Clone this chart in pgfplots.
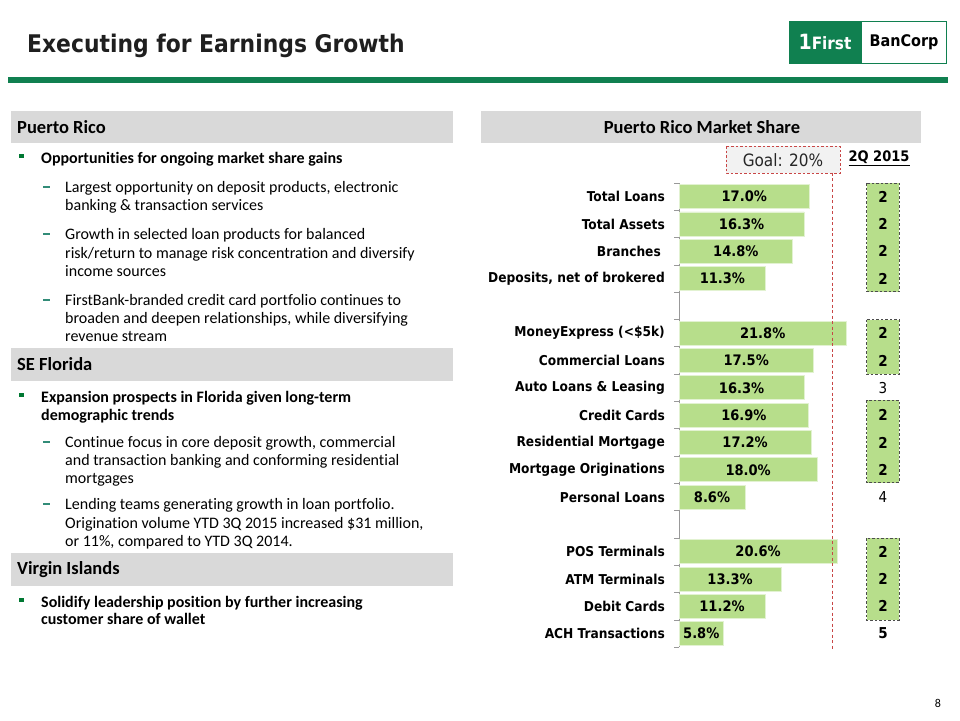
\documentclass[border=0pt]{standalone}
\usepackage{fontspec}
\setmainfont{Carlito}[Ligatures=NoCommon]
\newfontfamily\tah{DejaVu Sans Condensed}
\usepackage{pgfplots}
\pgfplotsset{compat=1.18}
\definecolor{fbgreen}{RGB}{16,128,80}
\definecolor{bulgreen}{RGB}{0,120,50}
\definecolor{bargreen}{RGB}{183,222,139}
\definecolor{hdrgray}{RGB}{217,217,217}
\definecolor{goalred}{RGB}{200,70,70}
\definecolor{dashteal}{RGB}{50,140,120}
\newcommand{\tl}[3]{\node[anchor=base west,inner sep=0pt,font=\fontsize{16}{18}\selectfont] at (#1,#2+5) {#3};}
\newcommand{\tb}[3]{\node[anchor=base west,inner sep=0pt,font=\bfseries\fontsize{16}{18}\selectfont] at (#1,#2+5) {#3};}
\newcommand{\bul}[1]{\fill[bulgreen] (19,#1-4.5) rectangle ++(4.5,4.5);}
\newcommand{\sdash}[1]{\draw[dashteal, line width=1.1pt] (43,#1) -- (50,#1);}
\newcommand{\hdr}[3]{\fill[hdrgray] (11,#1) rectangle (453,#2);
  \node[anchor=west,inner sep=0pt,font=\bfseries\fontsize{18.5}{20}\selectfont] at (17,{(#1+#2)/2}) {#3};}
\begin{document}
\begin{tikzpicture}
\begin{scope}[x=1pt,y=-1pt]
\fill[white] (0,0) rectangle (960,720);
% title
\node[anchor=base west,inner sep=0pt,text=black!88,font=\tah\bfseries\fontsize{24.3}{28}\selectfont] at (27,52) {Executing for Earnings Growth};
% logo
\fill[white] (789,21) rectangle (946,63);
\fill[fbgreen] (789,21) rectangle (862,63);
\draw[fbgreen, line width=1pt] (789,21) rectangle (946,63);
\node[white,inner sep=0pt,font=\tah\bfseries\fontsize{17}{20}\selectfont] at (825,42) {{\fontsize{21}{20}\selectfont 1}First};
\node[black,inner sep=0pt,font=\tah\bfseries\fontsize{16}{20}\selectfont] at (904,42) {BanCorp};
% rule
\fill[fbgreen] (8,77) rectangle (948,83);
% left panel
\hdr{111}{143}{Puerto Rico}
\bul{158}\tb{41}{158}{Opportunities for ongoing market share gains}
\sdash{187}\tl{65}{187}{Largest opportunity on deposit products, electronic}
\tl{65}{205}{banking \& transaction services}
\sdash{234}\tl{65}{234}{Growth in selected loan products for balanced}
\tl{65}{253}{risk/return to manage risk concentration and diversify}
\tl{65}{271}{income sources}
\sdash{300}\tl{65}{300}{FirstBank-branded credit card portfolio continues to}
\tl{65}{318}{broaden and deepen relationships, while diversifying}
\tl{65}{336}{revenue stream}
\hdr{348}{381}{SE Florida}
\bul{397}\tb{41}{397}{Expansion prospects in Florida given long-term}
\tb{41}{415}{demographic trends}
\sdash{442}\tl{65}{442}{Continue focus in core deposit growth, commercial}
\tl{65}{460}{and transaction banking and conforming residential}
\tl{65}{478}{mortgages}
\sdash{504}\tl{65}{504}{Lending teams generating growth in loan portfolio.}
\tl{65}{523}{Origination volume YTD 3Q 2015 increased \$31 million,}
\tl{65}{541}{or 11\%, compared to YTD 3Q 2014.}
\hdr{553}{586}{Virgin Islands}
\bul{602}\tb{41}{602}{Solidify leadership position by further increasing}
\tb{41}{619}{customer share of wallet}
% right header
\fill[hdrgray] (481,111) rectangle (921,143);
\node[inner sep=0pt,font=\bfseries\fontsize{18.5}{20}\selectfont] at (702,127) {Puerto Rico Market Share};
% goal box
\draw[goalred, fill=black!5, line width=1pt, dash pattern=on 2.5pt off 2pt] (726,146) rectangle (840,173);
\node[inner sep=0pt,font=\tah\fontsize{17}{20}\selectfont, text=black!85] at (783,160) {Goal: 20\%};
\node[inner sep=0pt,font=\tah\bfseries\fontsize{14.5}{17}\selectfont] at (879,158) {\underline{2Q 2015}};
% page number
\node[inner sep=0pt,font=\fontsize{12}{14}\selectfont] at (938,703) {8};
\end{scope}
\begin{axis}[
  at={(679pt,-183pt)}, anchor=north west,
  scale only axis, width=215.04pt, height=464.27pt,
  xmin=0, xmax=28, ymin=-0.5, ymax=16.5, y dir=reverse,
  axis x line=none, axis y line*=left,
  y axis line style={black!40, line width=0.8pt},
  clip=false,
  /pgf/number format/assume math mode=true,
  ytick={0,...,16},
  yticklabels={Total Loans, Total Assets, Branches\hspace*{4pt}, {Deposits, net of brokered}, {}, MoneyExpress (<\$5k), Commercial Loans, Auto Loans \& Leasing, Credit Cards, Residential Mortgage, Mortgage Originations, Personal Loans, {}, POS Terminals, ATM Terminals, Debit Cards, ACH Transactions},
  major tick length=0pt,
  yticklabel style={font=\tah\bfseries\fontsize{13.6}{15}\selectfont, anchor=east, inner sep=0pt, xshift=-14pt},
  extra y ticks={-0.5,0.5,...,16.5},
  extra y tick labels={},
  extra y tick style={major tick length=4.7pt, tick align=outside, tick style={black!40, line width=0.8pt}},
]
% rank boxes
\draw[black!70, fill=bargreen, line width=0.9pt, dash pattern=on 2.5pt off 2pt] (axis cs:24.44,-0.5) rectangle (axis cs:28.65,3.48);
\draw[black!70, fill=bargreen, line width=0.9pt, dash pattern=on 2.5pt off 2pt] (axis cs:24.44,4.5) rectangle (axis cs:28.65,6.5);
\draw[black!70, fill=bargreen, line width=0.9pt, dash pattern=on 2.5pt off 2pt] (axis cs:24.44,7.45) rectangle (axis cs:28.65,10.48);
\draw[black!70, fill=bargreen, line width=0.9pt, dash pattern=on 2.5pt off 2pt] (axis cs:24.44,12.5) rectangle (axis cs:28.65,15.5);
% bars
\addplot[xbar, bar width=24pt, fill=bargreen, draw=white!60!bargreen, line width=0.8pt,
  point meta=x,
  visualization depends on={-x/2 \as \halfx},
  nodes near coords={\pgfmathprintnumber[fixed,fixed zerofill,precision=1,assume math mode=true]{\pgfplotspointmeta}\%},
  every node near coord/.append style={anchor=center, inner sep=0pt, shift={(axis direction cs:\halfx,0)}, font=\tah\bfseries\fontsize{14.5}{16}\selectfont, text=black}]
coordinates {(17.0,0) (16.3,1) (14.8,2) (11.3,3) (21.8,5) (17.5,6) (16.3,7) (16.9,8) (17.2,9) (18.0,10) (8.6,11) (20.6,13) (13.3,14) (11.2,15) (5.8,16)};
% goal line
\draw[goalred, line width=1pt, dash pattern=on 3pt off 2.5pt] (axis cs:20,-0.88) -- (axis cs:20,16.59);
% ranks (bold)
\addplot[draw=none, mark=none, nodes near coords, point meta=explicit symbolic,
  every node near coord/.style={anchor=center, inner sep=0pt, font=\tah\bfseries\fontsize{15}{17}\selectfont}]
table[meta=r, row sep=\\] {x y r\\ 26.56 0 2\\ 26.56 1 2\\ 26.56 2 2\\ 26.56 3 2\\ 26.56 5 2\\ 26.56 6 2\\ 26.56 8 2\\ 26.56 9 2\\ 26.56 10 2\\ 26.56 13 2\\ 26.56 14 2\\ 26.56 15 2\\ 26.56 16 5\\};
% ranks (regular)
\addplot[draw=none, mark=none, nodes near coords, point meta=explicit symbolic,
  every node near coord/.style={anchor=center, inner sep=0pt, font=\tah\fontsize{15}{17}\selectfont}]
table[meta=r, row sep=\\] {x y r\\ 26.56 7 3\\ 26.56 11 4\\};
\end{axis}
\end{tikzpicture}
\end{document}
